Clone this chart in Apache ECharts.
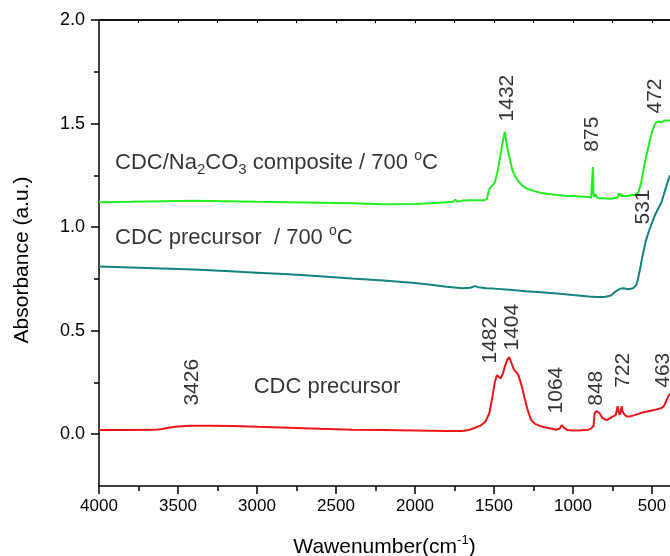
<!DOCTYPE html>
<html>
<head>
<meta charset="utf-8">
<script src="https://cdn.jsdelivr.net/npm/echarts@6/dist/echarts.min.js"></script>
<style>html,body{margin:0;padding:0;background:#fff}#c{width:670px;height:556px}</style>
</head>
<body>
<div id="c"></div>
<script>
// ---- data ----
const xTickLabels = [4000, 3500, 3000, 2500, 2000, 1500, 1000, 500];
const xMinorTicks = [3750, 3250, 2750, 2250, 1750, 1250, 750];
const xTopTicks = [3750, 3500, 3250, 3000, 2750, 2500, 2250, 2000, 1750, 1500, 1250, 1000, 750, 500];
const yTickLabels = [0, 0.5, 1.0, 1.5, 2.0];
const yMinorTicks = [0.25, 0.75, 1.25, 1.75];

// CDC/Na2CO3 composite / 700 °C
const compW = [4000,3800,3600,3400,3200,3000,2800,2600,2400,2200,2000,1900,1800,1760,1745,1730,1700,1650,1600,1560,1545,1535,1525,1510,1495,1480,1465,1450,1440,1432,1425,1415,1400,1385,1370,1350,1320,1290,1250,1200,1150,1100,1050,1000,950,900,885,880,877,875,873,870,865,858,852,845,835,800,760,730,715,710,705,700,690,670,650,630,610,595,585,570,555,540,525,510,495,485,475,465,455,440,420,400,386];
const compV = [1.12,1.122,1.125,1.127,1.125,1.122,1.12,1.118,1.115,1.11,1.112,1.115,1.12,1.122,1.132,1.122,1.128,1.13,1.13,1.13,1.135,1.17,1.19,1.2,1.215,1.26,1.32,1.39,1.43,1.46,1.43,1.38,1.33,1.28,1.25,1.225,1.2,1.185,1.175,1.165,1.16,1.155,1.152,1.15,1.148,1.145,1.142,1.15,1.25,1.29,1.25,1.16,1.145,1.16,1.15,1.14,1.138,1.138,1.137,1.14,1.145,1.165,1.15,1.16,1.15,1.15,1.15,1.155,1.155,1.16,1.17,1.21,1.27,1.33,1.38,1.43,1.47,1.49,1.505,1.51,1.51,1.505,1.515,1.515,1.515];

// CDC precursor / 700 °C
const precW = [4000,3800,3600,3400,3200,3000,2800,2600,2400,2200,2000,1900,1800,1700,1650,1620,1600,1550,1500,1400,1300,1200,1100,1000,900,850,800,760,730,700,680,650,620,600,590,575,560,540,520,500,480,460,440,420,400,386];
const precV = [0.81,0.805,0.8,0.795,0.788,0.78,0.772,0.763,0.752,0.742,0.73,0.722,0.712,0.705,0.707,0.715,0.71,0.705,0.703,0.698,0.69,0.685,0.68,0.672,0.665,0.663,0.663,0.67,0.69,0.703,0.705,0.7,0.705,0.72,0.745,0.8,0.86,0.93,0.98,1.02,1.06,1.09,1.12,1.17,1.22,1.25];

// CDC precursor
const rawW = [4000,3800,3650,3600,3550,3500,3426,3300,3150,3000,2800,2600,2400,2200,2000,1800,1700,1660,1625,1582,1555,1530,1510,1495,1482,1470,1458,1445,1430,1415,1404,1390,1375,1360,1348,1335,1320,1308,1290,1266,1240,1210,1180,1140,1108,1085,1072,1055,1034,1000,950,900,885,870,863,852,840,830,815,800,785,770,750,730,722,717,712,705,698,692,686,675,660,645,620,590,560,530,500,470,440,425,410,395,386];
const rawV = [0.02,0.02,0.021,0.025,0.032,0.037,0.041,0.041,0.04,0.036,0.031,0.026,0.022,0.02,0.018,0.016,0.016,0.02,0.03,0.043,0.06,0.1,0.18,0.25,0.285,0.28,0.27,0.29,0.33,0.36,0.372,0.345,0.315,0.3,0.29,0.26,0.22,0.18,0.125,0.07,0.05,0.04,0.034,0.028,0.022,0.026,0.043,0.03,0.02,0.018,0.019,0.022,0.028,0.04,0.1,0.112,0.118,0.1,0.08,0.072,0.068,0.075,0.085,0.092,0.1,0.135,0.11,0.095,0.11,0.135,0.11,0.095,0.085,0.085,0.09,0.097,0.105,0.11,0.115,0.12,0.127,0.135,0.16,0.185,0.195];

// peak annotations (vertical text): wavenumber, absorbance, text
const peakW = [1415, 880, 481, 557, 1525, 1386, 1108, 854, 684, 430, 3411];
const peakV = [1.623, 1.449, 1.633, 1.097, 0.454, 0.517, 0.213, 0.222, 0.309, 0.309, 0.251];
const peakText = ['1432', '875', '472', '531', '1482', '1404', '1064', '848', '722', '463', '3426'];

// curve names (horizontal text)
const nameW = [3905, 3905, 3027];
const nameV = [1.309, 0.947, 0.229];
const nameText = ['CDC/Na{sub|2}CO{sub|3} composite / 700 {sup|o}C', 'CDC precursor  / 700 {sup|o}C', 'CDC precursor'];

const X_MIN = 386, X_MAX = 4000, Y_MIN = -0.25, Y_MAX = 2.0;
const FONT = '"Liberation Sans", Arial, sans-serif';

const zip = (w, v) => w.map((x, i) => [x, v[i]]);

const chart = echarts.init(document.getElementById('c'), null, {renderer: 'canvas'});

const richStyles = {
  sub: {fontSize: 15, lineHeight: 15, verticalAlign: 'bottom', fontFamily: FONT, color: '#000'},
  sup: {fontSize: 14, lineHeight: 14, verticalAlign: 'top', fontFamily: FONT, color: '#000'}
};

const xBase = {type: 'value', min: X_MIN, max: X_MAX, inverse: true, gridIndex: 0, splitLine: {show: false}};
const yBase = {type: 'value', min: Y_MIN, max: Y_MAX, gridIndex: 0, splitLine: {show: false}};

const option = {
  animation: false,
  backgroundColor: '#fff',
  grid: {left: 99, right: 0, top: 20, bottom: 70, containLabel: false, outerBoundsMode: 'none'},
  xAxis: [
    Object.assign({}, xBase, {
      position: 'bottom',
      name: 'Wawenumber(cm{sup|-1})',
      nameLocation: 'middle',
      nameGap: 48,
      nameTextStyle: {fontSize: 21, fontFamily: FONT, color: '#000', lineHeight: 26, rich: {sup: {fontSize: 13, lineHeight: 13, verticalAlign: 'top', fontFamily: FONT, color: '#000'}}},
      axisLine: {show: true, onZero: false, lineStyle: {color: '#000', width: 1.5}},
      axisTick: {show: true, inside: false, length: 8, customValues: xTickLabels, lineStyle: {color: '#000', width: 1.5}},
      axisLabel: {show: true, customValues: xTickLabels, margin: 12, fontSize: 17, fontFamily: FONT, color: '#000', formatter: v => String(v)}
    }),
    Object.assign({}, xBase, {
      position: 'bottom',
      axisLine: {show: false, onZero: false},
      axisTick: {show: true, inside: false, length: 5, customValues: xMinorTicks, lineStyle: {color: '#000', width: 1.5}},
      axisLabel: {show: false}
    }),
    Object.assign({}, xBase, {
      position: 'top',
      axisLine: {show: true, onZero: false, lineStyle: {color: '#111', width: 2}},
      axisTick: {show: true, inside: true, length: 3, customValues: xTopTicks, lineStyle: {color: '#000', width: 1}},
      axisLabel: {show: false}
    })
  ],
  yAxis: [
    Object.assign({}, yBase, {
      position: 'left',
      name: 'Absorbance (a.u.)',
      nameLocation: 'middle',
      nameRotate: 90,
      nameGap: 66,
      nameTextStyle: {fontSize: 21, fontFamily: FONT, color: '#000', padding: [0, 14, 0, 0]},
      axisLine: {show: true, onZero: false, lineStyle: {color: '#000', width: 1.5}},
      axisTick: {show: true, inside: false, length: 8, customValues: yTickLabels, lineStyle: {color: '#000', width: 1.5}},
      axisLabel: {show: true, customValues: yTickLabels, margin: 14, fontSize: 18, fontFamily: FONT, color: '#000', formatter: v => v.toFixed(1)}
    }),
    Object.assign({}, yBase, {
      position: 'left',
      axisLine: {show: false, onZero: false},
      axisTick: {show: true, inside: false, length: 5, customValues: yMinorTicks, lineStyle: {color: '#000', width: 1.5}},
      axisLabel: {show: false}
    })
  ],
  series: [
    {type: 'line', name: 'CDC/Na2CO3 composite / 700 °C', data: zip(compW, compV), showSymbol: false, symbol: 'none', lineStyle: {color: '#22ee22', width: 2}, xAxisIndex: 0, yAxisIndex: 0, z: 3},
    {type: 'line', name: 'CDC precursor / 700 °C', data: zip(precW, precV), showSymbol: false, symbol: 'none', lineStyle: {color: '#128282', width: 2}, xAxisIndex: 0, yAxisIndex: 0, z: 3},
    {type: 'line', name: 'CDC precursor', data: zip(rawW, rawV), showSymbol: false, symbol: 'none', lineStyle: {color: '#f01414', width: 2}, xAxisIndex: 0, yAxisIndex: 0, z: 3},
    {
      type: 'scatter', silent: true, xAxisIndex: 0, yAxisIndex: 0, symbolSize: 2, itemStyle: {color: 'rgba(255,255,255,0)'},
      data: peakW.map((w, i) => ({value: [w, peakV[i]], name: peakText[i]})),
      label: {show: true, position: 'inside', rotate: 90, formatter: '{b}', fontSize: 21, fontFamily: FONT, color: '#000', align: 'center', verticalAlign: 'middle'},
      labelLayout: {hideOverlap: false},
      z: 5
    },
    {
      type: 'scatter', silent: true, xAxisIndex: 0, yAxisIndex: 0, symbolSize: 2, itemStyle: {color: 'rgba(255,255,255,0)'},
      data: nameW.map((w, i) => ({value: [w, nameV[i]], label: {formatter: nameText[i]}})),
      label: {show: true, position: 'right', distance: 0, fontSize: 22, fontFamily: FONT, color: '#000', lineHeight: 28, rich: richStyles},
      labelLayout: {hideOverlap: false},
      z: 5
    }
  ]
};
chart.setOption(option);
</script>
</body>
</html>
